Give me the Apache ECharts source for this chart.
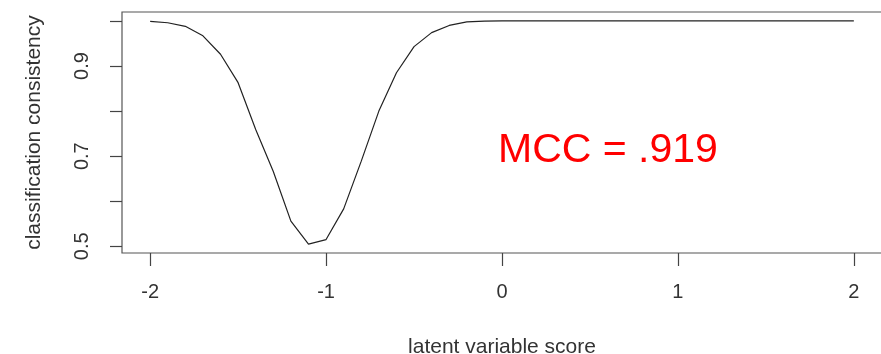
<!DOCTYPE html>
<html>
<head>
<meta charset="utf-8">
<script src="https://cdn.jsdelivr.net/npm/echarts@6/dist/echarts.min.js"></script>
<style>
  html, body { margin: 0; padding: 0; background: #fff; }
  #chart { width: 881px; height: 354px; }
</style>
</head>
<body>
<div id="chart"></div>
<script>
// Latent variable scores (evaluation grid)
const scores = [
  -2.0, -1.9, -1.8, -1.7, -1.6, -1.5, -1.4, -1.3, -1.2, -1.1, -1.0,
  -0.9, -0.8, -0.7, -0.6, -0.5, -0.4, -0.3, -0.2, -0.1, 0.0,
  0.1, 0.2, 0.3, 0.4, 0.5, 0.6, 0.7, 0.8, 0.9, 1.0,
  1.1, 1.2, 1.3, 1.4, 1.5, 1.6, 1.7, 1.8, 1.9, 2.0
];
// Classification consistency at each score
const consistency = [
  0.999, 0.996, 0.988, 0.967, 0.926, 0.863, 0.759, 0.666, 0.556, 0.505, 0.515,
  0.583, 0.689, 0.800, 0.885, 0.943, 0.974, 0.990, 0.998, 0.9995, 1.0,
  1.0, 1.0, 1.0, 1.0, 1.0, 1.0, 1.0, 1.0, 1.0, 1.0,
  1.0, 1.0, 1.0, 1.0, 1.0, 1.0, 1.0, 1.0, 1.0, 1.0
];
const xTicks = [-2, -1, 0, 1, 2];
const yTicks = [0.5, 0.6, 0.7, 0.8, 0.9, 1.0];
const yLabels = [0.5, 0.7, 0.9];
const annotation = 'MCC = .919';

const chart = echarts.init(document.getElementById('chart'), null, { renderer: 'canvas' });
const axisColor = '#444';
const textColor = '#333';
const font = '"Liberation Sans", Arial, sans-serif';

chart.setOption({
  animation: false,
  backgroundColor: '#fff',
  grid: {
    left: 122, top: 12, right: -1, bottom: 101,
    outerBoundsMode: 'none',
    containLabel: false,
    show: true, borderColor: '#555', borderWidth: 1.2, backgroundColor: 'transparent'
  },
  xAxis: {
    type: 'value',
    min: -2.16, max: 2.16,
    name: 'latent variable score',
    nameLocation: 'middle',
    nameGap: 84,
    nameTextStyle: { fontFamily: font, fontSize: 21, color: textColor },
    axisLine: { show: false, onZero: false },
    splitLine: { show: false },
    axisTick: { show: true, length: 13, customValues: xTicks, lineStyle: { color: axisColor, width: 1.2 } },
    axisLabel: {
      customValues: xTicks, margin: 29,
      fontFamily: font, fontSize: 20, color: textColor,
      formatter: v => String(v)
    }
  },
  yAxis: {
    type: 'value',
    min: 0.4852, max: 1.0198,
    name: 'classification consistency',
    nameLocation: 'middle',
    nameGap: 77,
    nameRotate: 90,
    nameTextStyle: { fontFamily: font, fontSize: 21, color: textColor },
    axisLine: { show: false, onZero: false },
    splitLine: { show: false },
    axisTick: { show: true, length: 12, customValues: yTicks, lineStyle: { color: axisColor, width: 1.2 } },
    axisLabel: {
      customValues: yLabels, rotate: 90, margin: 30,
      fontFamily: font, fontSize: 20, color: textColor,
      formatter: v => v.toFixed(1)
    }
  },
  series: [{
    type: 'line',
    data: scores.map((s, i) => [s, consistency[i]]),
    showSymbol: false,
    smooth: false,
    lineStyle: { color: '#222', width: 1.2 }
  }],
  graphic: [{
    type: 'text',
    x: 498, y: 130,
    style: {
      text: annotation, fill: '#ff0000',
      font: '41px "Liberation Sans", Arial, sans-serif'
    }
  }]
});
</script>
</body>
</html>
